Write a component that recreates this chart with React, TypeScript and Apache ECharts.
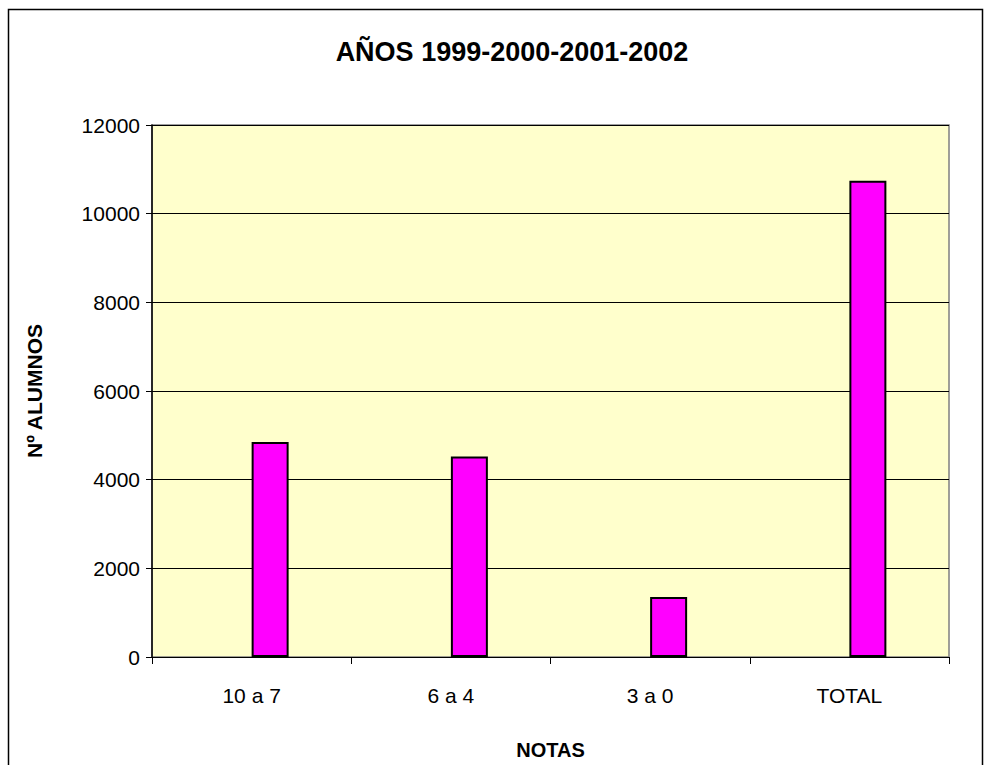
import React, { useEffect, useRef } from "react";
import * as echarts from "echarts";

const categories = ["10 a 7", "6 a 4", "3 a 0", "TOTAL"];
const emptySeries = [null, null, null, null];
const alumnos = [4850, 4525, 1355, 10740];
const titleText = "AÑOS 1999-2000-2001-2002";
const yName = "Nº ALUMNOS";
const xName = "NOTAS";

export default function App() {
  const ref = useRef<HTMLDivElement>(null);
  useEffect(() => {
    if (!ref.current) return;
    const chart = echarts.init(ref.current, null, { renderer: "svg" });
    const font = "Liberation Sans, Arial, sans-serif";
    chart.setOption({
      animation: false,
      backgroundColor: "#ffffff",
      textStyle: { fontFamily: font },
      title: {
        text: titleText,
        left: 507,
        top: 33,
        textAlign: "center",
        textStyle: { fontFamily: font, fontSize: 27, fontWeight: "bold", color: "#000" },
      },
      graphic: [
        {
          type: "rect",
          shape: { x: 8.5, y: 9.5, width: 974, height: 800 },
          style: { fill: "none", stroke: "#000", lineWidth: 1.5 },
          silent: true,
        },
      ],
      grid: {
        left: 152,
        top: 125,
        width: 797,
        height: 534,
        show: true,
        backgroundColor: "#FFFFCC",
        borderColor: "#808080",
        borderWidth: 1.5,
      },
      xAxis: {
        type: "category",
        data: categories,
        name: xName,
        nameLocation: "middle",
        nameGap: 83,
        nameTextStyle: { fontFamily: font, fontSize: 20, fontWeight: "bold", color: "#000" },
        axisLine: { show: true, lineStyle: { color: "#000", width: 1 } },
        axisTick: { show: true, inside: false, length: 7, alignWithLabel: false, lineStyle: { color: "#000" } },
        axisLabel: { fontFamily: font, fontSize: 21, color: "#000", margin: 28 },
        splitLine: { show: false },
      },
      yAxis: {
        type: "value",
        min: 0,
        max: 12000,
        interval: 2000,
        name: yName,
        nameLocation: "middle",
        nameRotate: 90,
        nameGap: 107,
        nameTextStyle: { fontFamily: font, fontSize: 21, fontWeight: "bold", color: "#000" },
        axisLine: { show: true, lineStyle: { color: "#000", width: 1.5 } },
        axisTick: { show: true, inside: false, length: 6, lineStyle: { color: "#000" } },
        axisLabel: {
          fontFamily: font,
          fontSize: 21,
          color: "#000",
          margin: 12,
          formatter: (v: number) => String(v),
        },
        splitLine: { show: true, lineStyle: { color: "#000", width: 1 } },
      },
      series: [
        {
          type: "bar",
          data: emptySeries,
          barWidth: 37,
          barGap: "0%",
          itemStyle: { color: "#FF00FF", borderColor: "#000", borderWidth: 2 },
        },
        {
          type: "bar",
          data: alumnos,
          barWidth: 37,
          barGap: "0%",
          itemStyle: { color: "#FF00FF", borderColor: "#000", borderWidth: 2 },
        },
      ],
    });
    return () => chart.dispose();
  }, []);
  return (
    <div
      ref={ref}
      style={{ position: "absolute", left: 0, top: 0, width: 984, height: 765 }}
    />
  );
}
